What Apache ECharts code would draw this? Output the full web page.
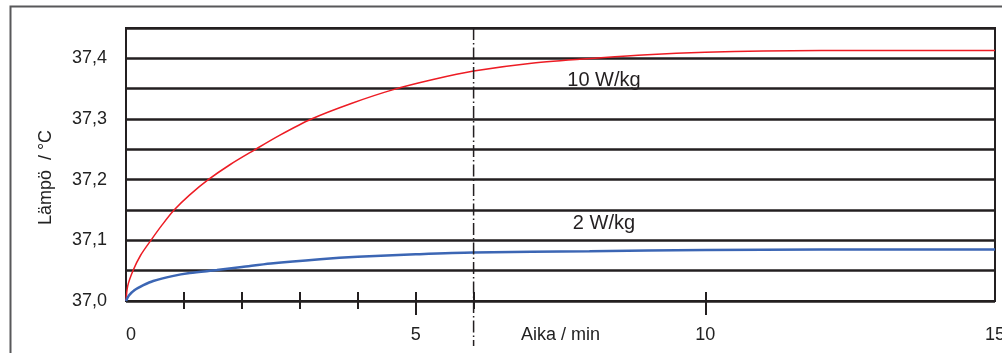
<!DOCTYPE html>
<html>
<head>
<meta charset="utf-8">
<script src="https://cdn.jsdelivr.net/npm/echarts@6/dist/echarts.min.js"></script>
<style>
html,body{margin:0;padding:0;background:#fff;}
#c{width:1002px;height:353px;}
</style>
</head>
<body>
<div id="c"></div>
<script>
// Time (min) and temperature (°C) readings
const redTime  = [0, 0.03, 0.12, 0.25, 0.43, 0.62, 0.83, 1.1, 1.42, 1.8, 2.2, 2.65, 3.2, 3.9, 4.6, 5.3, 6.0, 7.0, 8.2, 9.0, 10.0, 11.0, 13.0, 15.0];
const redTemp  = [37.0, 37.025, 37.05, 37.075, 37.1, 37.125, 37.15, 37.175, 37.2, 37.225, 37.248, 37.273, 37.3, 37.326, 37.348, 37.365, 37.379, 37.392, 37.401, 37.406, 37.41, 37.412, 37.413, 37.413];
const blueTime = [0, 0.05, 0.15, 0.3, 0.47, 0.8, 1.1, 1.57, 2.0, 2.5, 3.35, 4.0, 5.0, 6.0, 8.0, 10.0, 12.0, 15.0];
const blueTemp = [37.0, 37.009, 37.018, 37.026, 37.033, 37.041, 37.046, 37.051, 37.056, 37.062, 37.069, 37.073, 37.077, 37.08, 37.082, 37.084, 37.085, 37.085];
const xLabels = [0, 5, 10, 15];
const xMinorTicks = [1, 2, 3, 4, 6];
const xMajorTicks = [5, 10];
const yLabels = [37.0, 37.1, 37.2, 37.3, 37.4];
const markerTime = [6];
const markerBottom = 36.926;
const seriesNames = ['10 W/kg', '2 W/kg'];
const seriesLabelPos = [[8.25, 37.363], [8.25, 37.128]];

const zip = (a, b) => a.map((v, i) => [v, b[i]]);
const FONT = 'Liberation Sans, Arial, sans-serif';
const INK = '#231f20';
const Y_MIN = 37.0, Y_MAX = 37.45;

const baseX = {
  type: 'value', min: 0, max: 15, position: 'bottom',
  splitLine: {show: false},
  axisLine: {show: false}
};

function textMark(text, pos) {
  return {
    symbol: 'rect', symbolSize: 1, itemStyle: {color: 'rgba(0,0,0,0)'},
    label: {show: true, position: 'inside', formatter: text, fontFamily: FONT, fontSize: 20, color: INK},
    data: [{coord: pos}]
  };
}

const chart = echarts.init(document.getElementById('c'), null, {renderer: 'canvas'});
chart.setOption({
  animation: false,
  backgroundColor: '#fff',
  grid: {left: 126, top: 28, right: 7, bottom: 52, outerBoundsMode: 'none', containLabel: false,
         show: true, borderColor: INK, borderWidth: 2, backgroundColor: 'transparent'},
  graphic: [{
    type: 'rect', left: 8, top: 4, shape: {width: 1100, height: 400},
    style: {fill: 'none', stroke: '#58585a', lineWidth: 2}, z: -1
  }],
  xAxis: [
    Object.assign({}, baseX, {
      axisLine: {show: true, lineStyle: {color: INK, width: 2}},
      axisTick: {show: true, inside: true, length: 9, customValues: xMinorTicks.concat(xMajorTicks), lineStyle: {color: INK, width: 2}},
      axisLabel: {show: true, customValues: xLabels, margin: 25, alignMinLabel: 'left', fontFamily: FONT, fontSize: 18, color: '#222'},
      name: 'Aika / min', nameLocation: 'middle', nameGap: 25, nameMoveOverlap: false,
      nameTextStyle: {fontFamily: FONT, fontSize: 18, color: '#222', verticalAlign: 'top'}
    }),
    Object.assign({}, baseX, {
      axisTick: {show: true, inside: false, length: 8, customValues: xMinorTicks, lineStyle: {color: INK, width: 2}},
      axisLabel: {show: false}
    }),
    Object.assign({}, baseX, {
      axisTick: {show: true, inside: false, length: 14, customValues: xMajorTicks, lineStyle: {color: INK, width: 2}},
      axisLabel: {show: false}
    })
  ],
  yAxis: {
    type: 'value', min: Y_MIN, max: Y_MAX, interval: 0.05,
    axisLine: {show: true, lineStyle: {color: INK, width: 2}},
    axisTick: {show: false},
    splitLine: {show: true, lineStyle: {color: INK, width: 2.5}},
    axisLabel: {
      margin: 19, fontFamily: FONT, fontSize: 18, color: '#222',
      customValues: yLabels,
      formatter: v => v.toFixed(1).replace('.', ',')
    },
    name: 'Lämpö  / °C', nameLocation: 'middle', nameGap: 71, nameRotate: 90, nameMoveOverlap: false,
    nameTextStyle: {fontFamily: FONT, fontSize: 18, color: '#222', padding: [0, 26, 0, 0]}
  },
  series: [
    {
      name: seriesNames[0], type: 'line', data: zip(redTime, redTemp), smooth: 0.3,
      showSymbol: false, lineStyle: {color: '#ed1c24', width: 1.5}, z: 3,
      markPoint: textMark(seriesNames[0], seriesLabelPos[0])
    },
    {
      name: seriesNames[1], type: 'line', data: zip(blueTime, blueTemp), smooth: 0.3,
      showSymbol: false, lineStyle: {color: '#3c66b4', width: 2.5}, z: 3,
      markPoint: textMark(seriesNames[1], seriesLabelPos[1])
    },
    {
      type: 'custom', data: markerTime.map(t => [t]), clip: false, silent: true, z: 4,
      renderItem: (params, api) => {
        const x = api.value(0);
        const p0 = api.coord([x, Y_MAX]);
        const p1 = api.coord([x, markerBottom]);
        return {
          type: 'line',
          shape: {x1: p0[0], y1: p0[1], x2: p1[0], y2: p1[1]},
          style: {stroke: INK, lineWidth: 1.5, lineDash: [12, 3, 1.5, 3], fill: null}
        };
      }
    }
  ]
});
</script>
</body>
</html>
